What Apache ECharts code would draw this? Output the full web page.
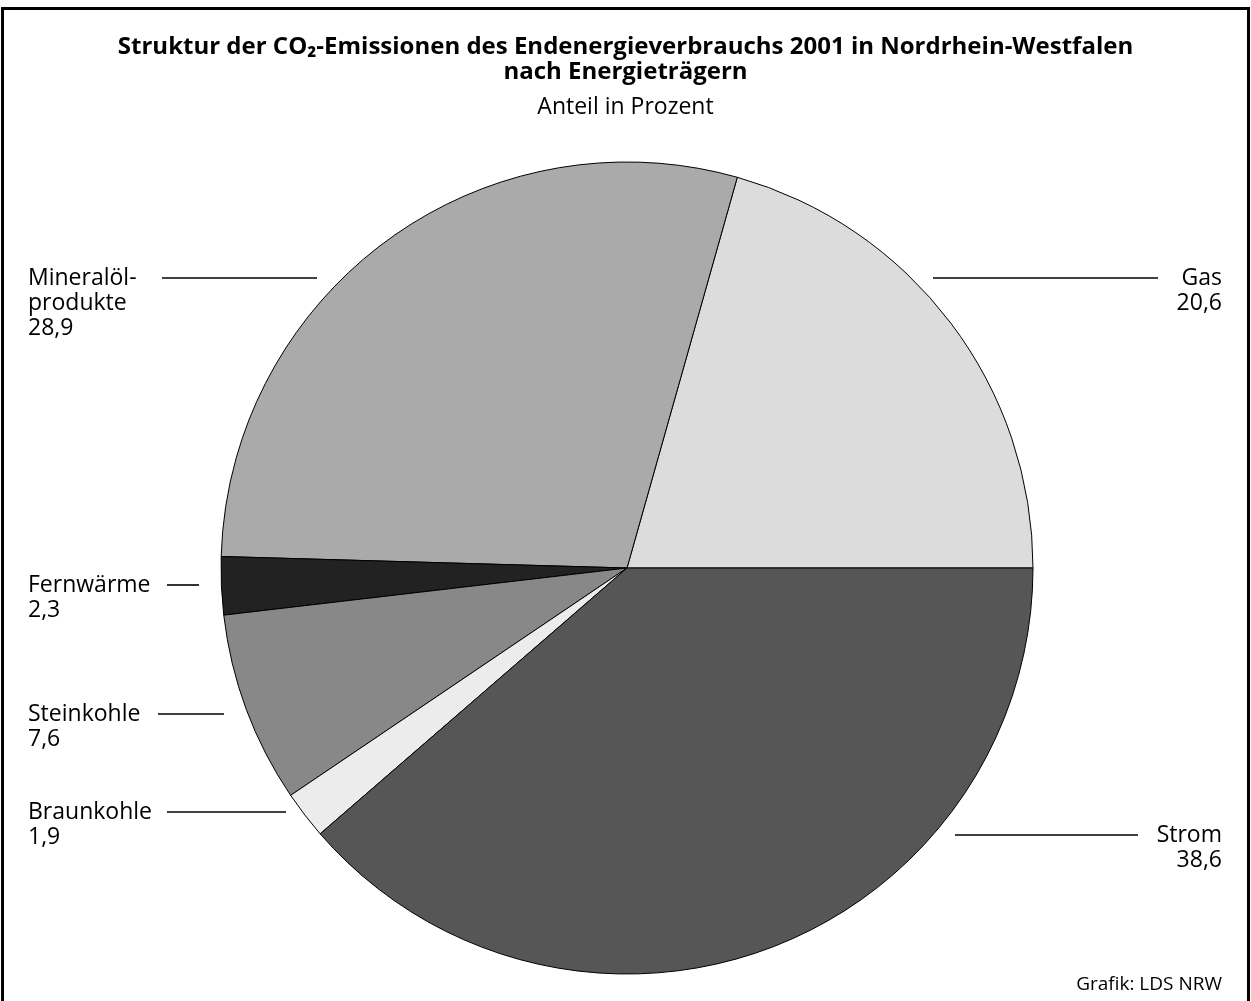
<!DOCTYPE html>
<html>
<head>
<meta charset="utf-8">
<script src="https://cdn.jsdelivr.net/npm/echarts@6/dist/echarts.min.js"></script>
<style>
html,body{margin:0;padding:0;background:#fff;}
#chart{width:1251px;height:1001px;}
</style>
</head>
<body>
<div id="chart"></div>
<script>
// ---- data ----
var categories = ['Gas', 'Mineralöl-\nprodukte', 'Fernwärme', 'Steinkohle', 'Braunkohle', 'Strom'];
var values = [20.6, 28.9, 2.3, 7.6, 1.9, 38.6];
var colors = ['#dcdcdc', '#aaaaaa', '#222222', '#888888', '#ececec', '#565656'];
var titleText = 'Struktur der CO\u2082-Emissionen des Endenergieverbrauchs 2001 in Nordrhein-Westfalen\nnach Energieträgern';
var subtitleText = 'Anteil in Prozent';
var sourceText = 'Grafik: LDS NRW';

// ---- label layout (positions only) ----
var labelPos = [
  {x: 1222, y: 278, align: 'right', line: [[933, 278], [1158, 278]]},
  {x: 28, y: 278, align: 'left', line: [[162, 278], [317, 278]]},
  {x: 28, y: 585, align: 'left', line: [[167, 585], [199, 585]]},
  {x: 28, y: 714, align: 'left', line: [[158, 714], [224, 714]]},
  {x: 28, y: 812, align: 'left', line: [[167, 812], [286, 812]]},
  {x: 1222, y: 835, align: 'right', line: [[955, 835], [1138, 835]]}
];
var LH = 25;

var chart = echarts.init(document.getElementById('chart'), null, {renderer: 'canvas'});
var data = categories.map(function (c, i) {
  return {name: c, value: values[i], itemStyle: {color: colors[i]}};
});

chart.setOption({
  animation: false,
  backgroundColor: '#ffffff',
  title: [
    {
      text: titleText,
      left: 'center', top: 30,
      textStyle: {fontFamily: 'Open Sans', fontWeight: 'bold', fontSize: 24, lineHeight: 25, color: '#000'}
    },
    {
      text: subtitleText,
      left: 'center', top: 90,
      textStyle: {fontFamily: 'Open Sans', fontWeight: 'normal', fontSize: 23, lineHeight: 25, color: '#000'}
    },
    {
      text: sourceText,
      right: 24, top: 969,
      textStyle: {fontFamily: 'Open Sans', fontWeight: 'normal', fontSize: 19, lineHeight: 22, color: '#000'}
    }
  ],
  graphic: [{
    type: 'rect', silent: true, z: 100,
    shape: {x: 2.5, y: 8.5, width: 1246, height: 1010},
    style: {fill: 'none', stroke: '#000', lineWidth: 3}
  }],
  series: [{
    type: 'pie',
    center: [627, 568],
    radius: [0, 406],
    startAngle: 0,
    clockwise: false,
    avoidLabelOverlap: false,
    silent: true,
    emphasis: {disabled: true},
    itemStyle: {borderColor: '#000', borderWidth: 1},
    data: data,
    label: {
      show: true,
      color: '#000',
      fontFamily: 'Open Sans',
      fontSize: 23,
      lineHeight: LH,
      formatter: function (p) {
        return p.name + '\n' + String(p.value).replace('.', ',');
      }
    },
    labelLine: {show: true, lineStyle: {color: '#000', width: 1.6}},
    labelLayout: function (params) {
      var lp = labelPos[params.dataIndex];
      return {
        x: lp.x,
        y: lp.y - LH / 2,
        align: lp.align,
        verticalAlign: 'top',
        labelLinePoints: lp.line
      };
    }
  }]
});
</script>
</body>
</html>
